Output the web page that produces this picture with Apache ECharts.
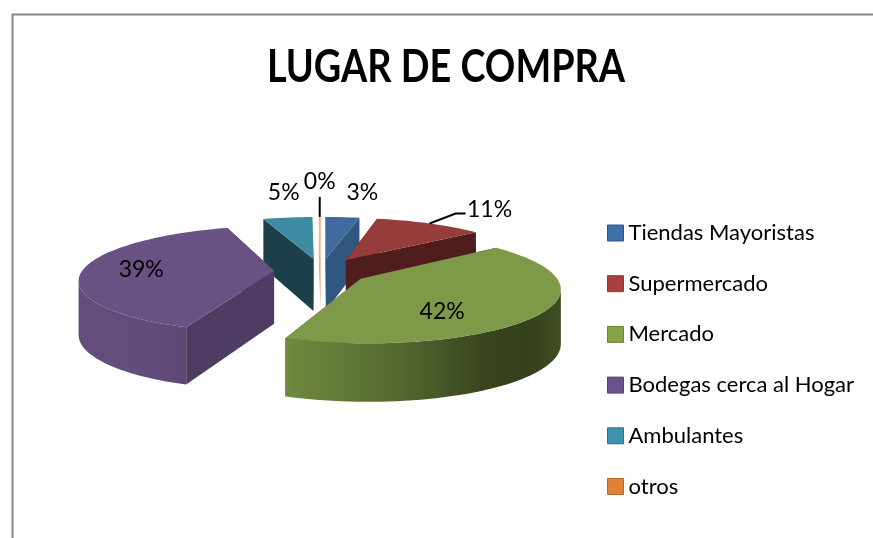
<!DOCTYPE html>
<html>
<head>
<meta charset="utf-8">
<style>html,body{margin:0;padding:0;background:#fff}#c{width:873px;height:538px}</style>
<script src="https://cdn.jsdelivr.net/npm/echarts@6/dist/echarts.min.js"></script>
</head>
<body>
<div id="c"></div>
<script>
// ---- data ----
const chartTitle = 'LUGAR DE COMPRA';
const categories = ['Tiendas Mayoristas', 'Supermercado', 'Mercado', 'Bodegas cerca al Hogar', 'Ambulantes', 'otros'];
const values = [3.4, 10.8, 41.6, 39.1, 4.9, 0.2];

// ---- styles ----
const topColors = ['#3f6b9f', '#963d3b', '#7e9a48', '#6a5184', '#3e8ba4', '#e6b48c'];
const wallColors = ['#305780', '#4e1d1c', '#4f3c63', '#4f3c63', '#1c3f49', '#e6b48c'];
const legendColors = ['#3f6fa8', '#a8403d', '#86a34a', '#6d5290', '#3d93ad', '#e08236'];
const legendBorders = ['#2f5580', '#8a3a38', '#6b8238', '#55406f', '#2f7286', '#b3682b'];
const drawOrder = [4, 5, 0, 1, 3, 2];
const explodeBy = [47, 49, 48, 47, 47, 47];
// label placement: fraction along the slice radius, then a nudge in px
const labelPlace = [
  { f: 1, dx: 20, dy: -25 }, { f: 1, dx: 60, dy: -14 }, { f: 0.45, dx: 5, dy: 18 },
  { f: 0.7, dx: 1, dy: 0 }, { f: 1, dx: -4, dy: -25 }, { f: 1, dx: 0, dy: -35 }
];
const leaders = [false, true, false, false, false, true];

// ---- 3D pie projection settings ----
const CX = 321, CY = 271, R = 192, TILT = 0.27, PERSP = 0.155, DEPTH = 53;
const total = values.reduce((a, b) => a + b, 0);
const rad = d => d * Math.PI / 180;
const starts = [];
values.reduce((acc, v, i) => { starts[i] = acc; return acc + v; }, 0);

function project(X, Z, down) {
  const p = 1 / (1 + PERSP * Z / R);
  return [CX + X * p, CY - Z * TILT * p + (down ? DEPTH * Math.sqrt(p) : 0)];
}

function slice(i) {
  const a0 = starts[i] / total * 360, a1 = (starts[i] + values[i]) / total * 360;
  const m = (a0 + a1) / 2;
  const ox = explodeBy[i] * Math.sin(rad(m)), oz = explodeBy[i] * Math.cos(rad(m));
  const rimP = (a, down, f = 1) => project(ox + f * R * Math.sin(rad(a)), oz + f * R * Math.cos(rad(a)), down);
  const apex = d => project(ox, oz, d);
  return { a0, a1, m, rimP, apex };
}

function arcAngles(a0, a1) {
  const out = [], n = Math.max(1, Math.ceil((a1 - a0) / 2));
  for (let k = 0; k <= n; k++) out.push(a0 + (a1 - a0) * k / n);
  return out;
}

function rimBand(s, lo, hi, fill) {
  const ang = arcAngles(lo, hi);
  const pts = ang.map(a => s.rimP(a, false)).concat(ang.slice().reverse().map(a => s.rimP(a, true)));
  return { type: 'polygon', shape: { points: pts }, style: { fill } };
}

// angle of the rim's horizontal extreme: where the visible outer wall ends
function silhouette(s, sign) {
  let best = s.a0, bestX = -Infinity;
  arcAngles(s.a0, s.a1).forEach(a => {
    const x = sign * s.rimP(a, false)[0];
    if (x > bestX) { bestX = x; best = a; }
  });
  return best;
}

function renderSlice(i) {
  const s = slice(i);
  const children = [];
  const wall = (a) => ({
    type: 'polygon',
    shape: { points: [s.apex(false), s.rimP(a, false), s.rimP(a, true), s.apex(true)] },
    style: { fill: wallColors[i] }
  });
  // radial walls, farther one first
  const walls = [s.a0, s.a1].sort((p, q) => Math.cos(rad(q)) - Math.cos(rad(p)));
  walls.forEach(a => children.push(wall(a)));
  // outer rim wall, from silhouette to slice edge
  if (i === 2) {
    children.push(rimBand(s, silhouette(s, 1), s.a1, new echarts.graphic.LinearGradient(1, 0, 0, 0, [
      { offset: 0, color: '#414e24' }, { offset: 0.12, color: '#35401c' },
      { offset: 0.28, color: '#39451f' }, { offset: 0.6, color: '#56692f' }, { offset: 1, color: '#708a40' }])));
  } else if (i === 3) {
    children.push(rimBand(s, s.a0, silhouette(s, -1), new echarts.graphic.LinearGradient(0, 0, 1, 0, [
      { offset: 0, color: '#644d7d' }, { offset: 0.7, color: '#634c7c' }, { offset: 1, color: '#5c4774' }])));
  }
  // top face
  const topPts = [s.apex(false)].concat(arcAngles(s.a0, s.a1).map(a => s.rimP(a, false)));
  children.push({ type: 'polygon', shape: { points: topPts }, style: { fill: topColors[i] } });

  // label
  const lp = labelPlace[i];
  const anchor = s.rimP(s.m, false, lp.f);
  const lx = anchor[0] + lp.dx, ly = anchor[1] + lp.dy;
  if (leaders[i]) {
    const from = s.rimP(s.m, false);
    const pts = i === 5
      ? [[from[0], ly + 15], from]
      : [from, [lx - 34, ly + 4], [lx - 24, ly + 4]];
    children.push({ type: 'polyline', shape: { points: pts }, style: { stroke: '#000', lineWidth: 2, fill: null } });
  }
  children.push({
    type: 'text', z2: 10,
    style: {
      x: lx, y: ly, text: Math.round(values[i] / total * 100) + '%',
      fill: '#000', font: '23px Lato', textAlign: 'center', textVerticalAlign: 'middle'
    }
  });
  return { type: 'group', children };
}

const chart = echarts.init(document.getElementById('c'), null, { renderer: 'canvas' });
chart.setOption({
  animation: false,
  backgroundColor: '#ffffff',
  legend: {
    orient: 'vertical', left: 602, top: 216, itemWidth: 16, itemHeight: 16, itemGap: 26.7,
    icon: 'rect', selectedMode: false,
    textStyle: { fontFamily: 'Lato', fontSize: 22, lineHeight: 24, color: '#000' },
    data: categories.map((name, i) => ({ name, itemStyle: { color: legendColors[i], borderColor: legendBorders[i], borderWidth: 1 } }))
  },
  graphic: [{
    type: 'polyline', silent: true,
    shape: { points: [[12.5, 538], [12.5, 14.5], [873, 14.5]] },
    style: { stroke: '#868686', lineWidth: 2, fill: null }
  }, {
    type: 'text', silent: true, x: 446, y: 67, scaleX: 0.822, scaleY: 1,
    style: { text: chartTitle, fill: '#000', font: 'bold 46px Lato', textAlign: 'center', textVerticalAlign: 'middle' }
  }],
  series: categories.map((name, i) => ({
    type: 'custom', name, coordinateSystem: 'none', silent: true,
    z: 2 + drawOrder.indexOf(i),
    itemStyle: { color: legendColors[i] },
    data: [values[i]],
    renderItem: () => renderSlice(i)
  }))
});
</script>
</body>
</html>
